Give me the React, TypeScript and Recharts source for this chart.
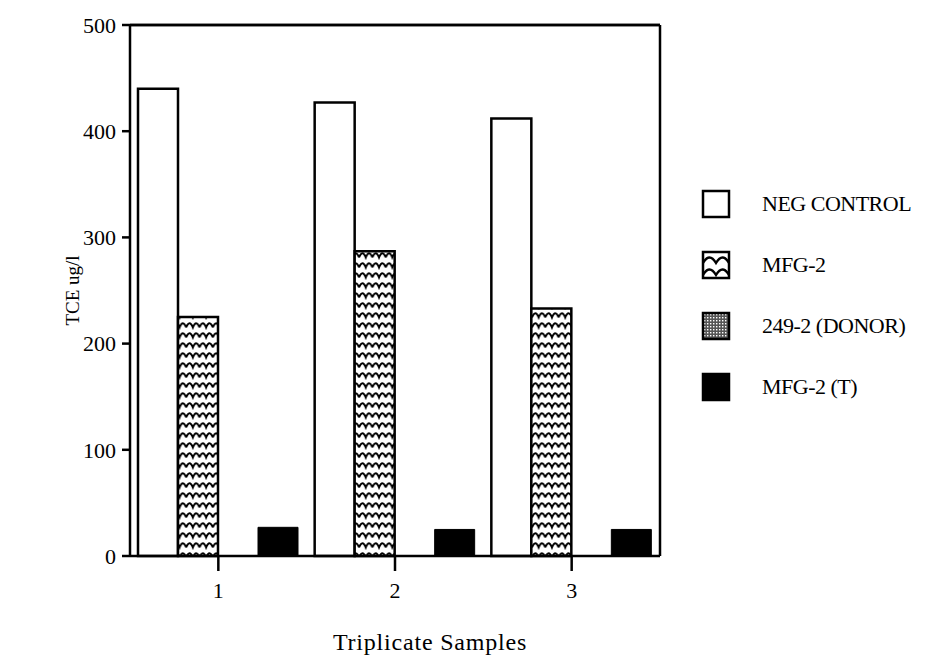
import { BarChart, Bar, XAxis, YAxis, ReferenceLine } from "recharts";

const samples = ["1", "2", "3"];
const negControl = [440, 427, 412];
const mfg2 = [225, 287, 233];
const donor = [0, 0, 0];
const mfg2T = [27, 25, 25];
const yTicks = [0, 100, 200, 300, 400, 500];

const seriesNames = ["NEG CONTROL", "MFG-2", "249-2 (DONOR)", "MFG-2 (T)"];

const data = samples.map((s, i) => ({
	sample: s,
	neg: negControl[i],
	mfg2: mfg2[i],
	donor: donor[i],
	mfg2t: mfg2T[i],
}));

const FONT = "'Liberation Serif', 'DejaVu Serif', serif";

const Swatch = ({ index }: { index: number }) => {
	let fill = "#fff";
	if (index === 1) fill = "url(#lgWave)";
	if (index === 2) fill = "url(#lgDots)";
	if (index === 3) fill = "#000";
	return (
		<svg width={30} height={30} style={{ display: "block" }}>
			<defs>
				<pattern id='lgWave' patternUnits='userSpaceOnUse' width={26} height={12} x={2} y={4}>
					<rect width={26} height={12} fill='#fff' />
					<path d='M0 9 Q6.5 -2 13 9 Q19.5 -2 26 9' fill='none' stroke='#000' strokeWidth={2.4} />
				</pattern>
				<pattern id='lgDots' patternUnits='userSpaceOnUse' width={3} height={3}>
					<rect width={3} height={3} fill='#555' />
					<rect width={1.4} height={1.4} fill='#fff' />
				</pattern>
			</defs>
			<rect x={2} y={2} width={26} height={26} fill={fill} stroke='#000' strokeWidth={2.5} />
		</svg>
	);
};

const ChartLegend = () => (
	<div style={{ position: "absolute", left: 701, top: 173, width: 226, fontFamily: FONT }}>
		{seriesNames.map((name, i) => (
			<div key={name} style={{ display: "flex", alignItems: "center", height: 61 }}>
				<Swatch index={i} />
				<span style={{ marginLeft: 31, fontSize: 22, color: "#000", letterSpacing: -0.5 }}>
					{name}
				</span>
			</div>
		))}
	</div>
);

const App = () => {
	return (
		<div style={{ position: "absolute", left: 0, top: 0, width: 927, height: 661, background: "#fff" }}>
			<BarChart
				width={927}
				height={661}
				data={data}
				margin={{ top: 24, right: 266, bottom: 5, left: 50 }}
				barCategoryGap={8}
				barGap={0}>
				<defs>
					<pattern id='wave' patternUnits='userSpaceOnUse' width={13.3} height={10}>
						<rect width={13.3} height={10} fill='#fff' />
						<path d='M0 7.5 Q3.3 -1 6.65 7.5 Q10 -1 13.3 7.5' fill='none' stroke='#000' strokeWidth={2} />
					</pattern>
					<pattern id='dots' patternUnits='userSpaceOnUse' width={3} height={3}>
						<rect width={3} height={3} fill='#555' />
						<rect width={1.4} height={1.4} fill='#fff' />
					</pattern>
				</defs>
				<XAxis
					dataKey='sample'
					height={100}
					axisLine={{ stroke: "#000", strokeWidth: 2.5 }}
					tickLine={{ stroke: "#000", strokeWidth: 2.5 }}
					tickSize={15}
					tickMargin={11}
					tick={{ fill: "#000", fontSize: 22, fontFamily: FONT }}
					label={{
						value: "Triplicate Samples",
						position: "insideBottom",
						offset: 6,
						dx: 35,
						fill: "#000",
						style: { fill: "#000", fontSize: 24, fontFamily: FONT, letterSpacing: 0.8 },
					}}
				/>
				<XAxis
					xAxisId='top'
					orientation='top'
					dataKey='sample'
					height={1}
					tick={false}
					tickLine={false}
					axisLine={{ stroke: "#000", strokeWidth: 2.5 }}
				/>
				<YAxis
					domain={[0, 500]}
					ticks={yTicks}
					width={80}
					interval={0}
					axisLine={{ stroke: "#000", strokeWidth: 2.5 }}
					tickLine={{ stroke: "#000", strokeWidth: 2.5 }}
					tickSize={8}
					tickMargin={6}
					tick={{ fill: "#000", fontSize: 22, fontFamily: FONT }}
					label={{
						value: "TCE ug/l",
						angle: -90,
						position: "insideLeft",
						offset: 22,
						fill: "#000",
						stroke: "none",
						style: { fill: "#000", stroke: "none", fontSize: 19, fontFamily: FONT, textAnchor: "middle" },
					}}
				/>
				<YAxis
					yAxisId='right'
					orientation='right'
					domain={[0, 500]}
					width={1}
					tick={false}
					tickLine={false}
					axisLine={{ stroke: "#000", strokeWidth: 2.5 }}
				/>
				<ReferenceLine y={500} stroke='#000' strokeWidth={2.5} />
				<Bar dataKey='neg' name='NEG CONTROL' fill='#fff' stroke='#000' strokeWidth={2.5} isAnimationActive={false} />
				<Bar dataKey='mfg2' name='MFG-2' fill='url(#wave)' stroke='#000' strokeWidth={2.5} isAnimationActive={false} />
				<Bar dataKey='donor' name='249-2 (DONOR)' fill='url(#dots)' stroke='none' isAnimationActive={false} />
				<Bar dataKey='mfg2t' name='MFG-2 (T)' fill='#000' stroke='#000' strokeWidth={1} isAnimationActive={false} />
			</BarChart>
			<ChartLegend />
		</div>
	);
};

export default App;
